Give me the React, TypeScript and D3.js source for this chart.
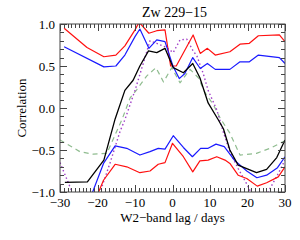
import React from "react";
import * as d3 from "d3";

const title = "Zw 229\u221215";
const xLabel = "W2\u2212band lag / days";
const yLabel = "Correlation";
const xTicks = [-30, -20, -10, 0, 10, 20, 30];
const yTicks = [-1.0, -0.5, 0.0, 0.5, 1.0];

const redUpLags = [-28.9, -22.8, -18.3, -15.1, -12.7, -10, -8.9, -6.3, -4.2, -2, -0.5, 1, 5.5, 7.4, 9.3, 11.4, 15.3, 18, 20.5, 22.9, 28.5, 30];
const redUpVals = [0.95, 0.72, 0.61, 0.63, 0.74, 0.93, 1.02, 0.89, 0.92, 0.93, 0.5, 0.5, 0.87, 0.65, 0.71, 0.63, 0.67, 0.76, 0.77, 0.86, 0.87, 0.79];

const blueUpLags = [-28.9, -18.3, -15.1, -12.7, -10, -8.7, -6.3, -4.2, -2, 0.2, 1.8, 3.3, 5.4, 7.4, 9.3, 11.4, 15.3, 18, 20.5, 22.9, 28.5, 30];
const blueUpVals = [0.73, 0.49, 0.5, 0.63, 0.85, 0.94, 0.71, 0.81, 0.79, 0.49, 0.35, 0.41, 0.6, 0.47, 0.53, 0.46, 0.46, 0.55, 0.55, 0.63, 0.6, 0.53];

const blackLags = [-28.7, -22.7, -18.3, -15.3, -12.7, -10.5, -8.7, -6.4, -4.2, -2, 0.2, 2.9, 5.4, 7.3, 9.5, 12.2, 13.6, 15.3, 17.5, 22.4, 25.1, 27.8, 30];
const blackVals = [-0.885, -0.88, -0.62, -0.13, 0.21, 0.33, 0.5, 0.68, 0.66, 0.71, 0.48, 0.42, 0.53, 0.36, 0.06, -0.14, -0.25, -0.5, -0.68, -0.77, -0.73, -0.59, -0.38];

const blueLowLags = [-29, -23, -18.4, -15.3, -12.2, -8.7, -6, -3.8, -2, 0.2, 2.9, 5.3, 7.5, 9.5, 11.6, 13.8, 16.5, 19.8, 22.5, 25.1, 28, 30];
const blueLowVals = [-1.6, -1.2, -0.66, -0.45, -0.48, -0.56, -0.52, -0.48, -0.49, -0.33, -0.47, -0.58, -0.48, -0.48, -0.43, -0.46, -0.62, -0.75, -0.83, -0.8, -0.71, -0.58];

const redLowLags = [-29, -23, -18.4, -15.3, -12.2, -8.7, -6, -3.8, -2, 0, 2.9, 5.4, 7.3, 9.5, 11.8, 14, 15.3, 17.5, 19.8, 22.6, 25.1, 28.2, 30];
const redLowVals = [-1.8, -1.35, -0.86, -0.67, -0.7, -0.77, -0.75, -0.67, -0.65, -0.42, -0.58, -0.76, -0.63, -0.62, -0.58, -0.62, -0.66, -0.8, -0.84, -0.93, -0.89, -0.82, -0.7];

const greenLags = [-30, -24.7, -21.1, -17.5, -15.3, -13.5, -11.3, -9.5, -6.9, -4.4, -2.4, -0.2, 2, 4.7, 6.9, 8.7, 10.9, 12.7, 15.3, 18, 22.4, 26, 30];
const greenVals = [-0.38, -0.52, -0.55, -0.54, -0.32, -0.14, 0.12, 0.22, 0.38, 0.48, 0.31, 0.48, 0.3, 0.46, 0.36, 0.18, 0.04, -0.12, -0.3, -0.56, -0.54, -0.48, -0.39];

const purpleLags = [-30, -24, -19.3, -16.7, -14, -12.7, -10, -7.8, -6, -4.2, -1.6, 0.2, 2, 3.8, 5.5, 6.5, 8.2, 9.5, 11.8, 13.5, 15.3, 17.5, 20, 23, 25.5, 28.2, 30];
const purpleVals = [-0.65, -1.3, -1.0, -0.66, -0.28, -0.14, 0.21, 0.53, 0.8, 0.77, 0.72, 0.66, 0.81, 0.82, 0.68, 0.62, 0.41, 0.21, -0.02, -0.28, -0.52, -0.72, -0.92, -1.2, -1.0, -0.78, -0.62];

const W = 300, H = 240;
const L = 60, R = 285, T = 24, B = 192;

export default function App() {
  const x = d3.scaleLinear().domain([-30, 30]).range([L, R]);
  const y = d3.scaleLinear().domain([-1, 1]).range([B, T]);
  const mk = (lags: number[], vals: number[]) =>
    d3.line<number>().x((_, i) => x(lags[i])).y((v) => y(v))(vals) || "";

  const series = [
    { d: mk(greenLags, greenVals), c: "#8fbc8f", dash: "5,4", w: 1.2 },
    { d: mk(purpleLags, purpleVals), c: "#a040c8", dash: "1.5,2.5", w: 1.4 },
    { d: mk(redUpLags, redUpVals), c: "#ff1010", dash: undefined, w: 1.2 },
    { d: mk(blueUpLags, blueUpVals), c: "#1a1aff", dash: undefined, w: 1.2 },
    { d: mk(redLowLags, redLowVals), c: "#ff1010", dash: undefined, w: 1.2 },
    { d: mk(blueLowLags, blueLowVals), c: "#1a1aff", dash: undefined, w: 1.2 },
    { d: mk(blackLags, blackVals), c: "#000", dash: undefined, w: 1.3 },
  ];

  const xMinor = d3.range(-30, 31, 1);
  const yMinor = d3.range(-10, 11, 1).map((v) => v / 10);
  const font = "'Liberation Serif', 'DejaVu Serif', serif";
  const axisC = "#444";

  return (
    <svg width={W} height={H} style={{ position: "absolute", left: 0, top: 0, background: "#fff" }}>
      <defs>
        <clipPath id="plot">
          <rect x={L} y={T} width={R - L} height={B - T} />
        </clipPath>
      </defs>
      <g clipPath="url(#plot)" fill="none">
        {series.map((s, i) => (
          <path key={i} d={s.d} stroke={s.c} strokeWidth={s.w} strokeDasharray={s.dash} strokeLinejoin="round" />
        ))}
      </g>
      <g stroke={axisC} strokeWidth={1}>
        <rect x={L} y={T} width={R - L} height={B - T} fill="none" />
        {xMinor.map((v) => {
          const major = v % 10 === 0;
          const len = major ? 7 : 4;
          const px = Math.round(x(v)) + 0.5;
          return (
            <g key={"x" + v}>
              <line x1={px} x2={px} y1={B} y2={B - len} />
              <line x1={px} x2={px} y1={T} y2={T + len} />
            </g>
          );
        })}
        {yMinor.map((v) => {
          const major = Math.abs((v * 10) % 5) < 1e-6;
          const len = major ? 7 : 4;
          const py = Math.round(y(v)) + 0.5;
          return (
            <g key={"y" + v}>
              <line x1={L} x2={L + len} y1={py} y2={py} />
              <line x1={R} x2={R - len} y1={py} y2={py} />
            </g>
          );
        })}
      </g>
      <g fontFamily={font} fontSize={13} fill="#000">
        {xTicks.map((v) => (
          <text key={"xl" + v} x={x(v)} y={207} textAnchor="middle">
            {v < 0 ? "\u2212" + Math.abs(v) : String(v)}
          </text>
        ))}
        {yTicks.map((v) => (
          <text key={"yl" + v} x={55} y={y(v) + 4.5} textAnchor="end">
            {(v < 0 ? "\u2212" : "") + Math.abs(v).toFixed(1)}
          </text>
        ))}
        <text x={(L + R) / 2} y={222} textAnchor="middle">{xLabel}</text>
        <text transform={`translate(26,${(T + B) / 2}) rotate(-90)`} textAnchor="middle">{yLabel}</text>
        <text x={(L + R) / 2 + 2} y={17} textAnchor="middle" fontSize={14}>{title}</text>
      </g>
    </svg>
  );
}
